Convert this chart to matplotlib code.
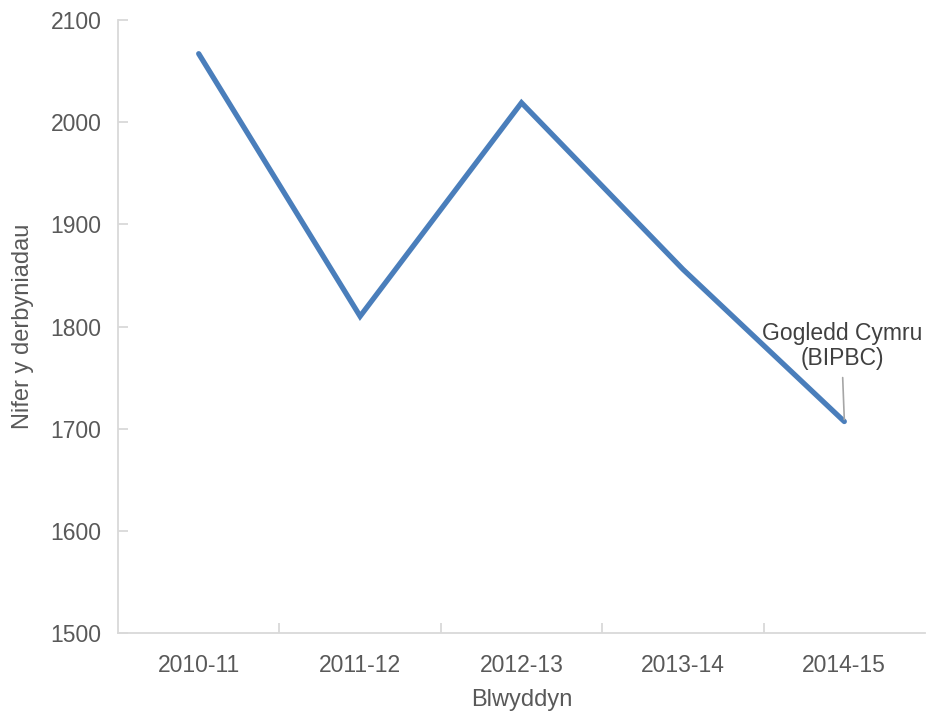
import matplotlib.pyplot as plt

plt.rcParams['font.family'] = ['Liberation Sans', 'DejaVu Sans']

years = ['2010-11', '2011-12', '2012-13', '2013-14', '2014-15']
admissions = [2067, 1810, 2019, 1856, 1707]
series_label = 'Gogledd Cymru\n(BIPBC)'

txt = '#595959'
grid_col = '#d9d9d9'

fig = plt.figure(figsize=(9.28, 7.13), dpi=100)
ax = fig.add_axes([118 / 928, 80 / 713, 807 / 928, 613 / 713])

x = range(len(years))
ax.plot(x, admissions, color='#4a7ebb', lw=3.8, solid_capstyle='round', solid_joinstyle='miter')

ax.set_xlim(-0.5, len(years) - 0.5)
ax.set_ylim(1500, 2100)
ax.set_yticks(range(1500, 2101, 100))
ax.set_xticks(list(x))
ax.set_xticklabels(years)
ax.set_xticks([i + 0.5 for i in range(len(years) - 1)], minor=True)

for s in ['top', 'right']:
    ax.spines[s].set_visible(False)
for s in ['left', 'bottom']:
    ax.spines[s].set_color(grid_col)
    ax.spines[s].set_linewidth(1.3)

ax.tick_params(axis='x', which='major', length=0, pad=15, labelsize=16.5, labelcolor=txt)
ax.tick_params(axis='x', which='minor', direction='in', length=7, color=grid_col, width=1.3)
ax.tick_params(axis='y', direction='in', length=7, color=grid_col, width=1.3,
               pad=12, labelsize=16.5, labelcolor=txt)

ax.set_xlabel('Blwyddyn', fontsize=17, color=txt, labelpad=9)
ax.set_ylabel('Nifer y derbyniadau', fontsize=17, color=txt, labelpad=12)

# series name above the last point, with a short leader line
ax.text(3.99, 1781, series_label, ha='center', va='center', fontsize=16.5,
        color='#404040', linespacing=1.1, clip_on=False)
ax.annotate('', xy=(4, admissions[-1] + 2), xytext=(3.99, 1750),
            arrowprops=dict(arrowstyle='-', color='#a6a6a6', lw=1.2, shrinkA=0, shrinkB=0))

fig.savefig('out.png', dpi=100)
